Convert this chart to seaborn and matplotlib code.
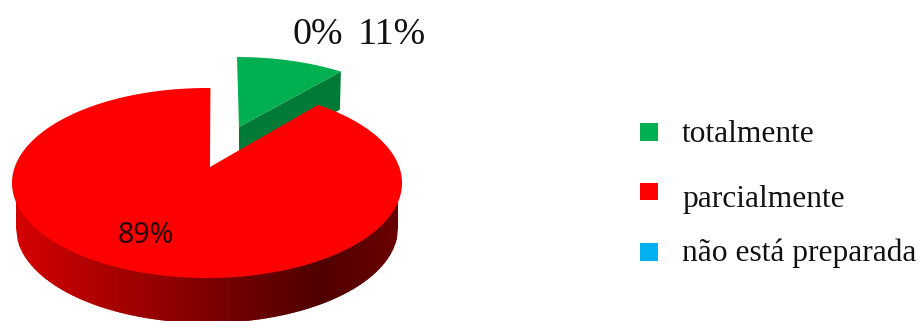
import numpy as np
import matplotlib
matplotlib.use("Agg")
import matplotlib.pyplot as plt
from matplotlib.patches import Polygon
from matplotlib.collections import PolyCollection
import seaborn as sns

# data
categories = ["totalmente", "parcialmente", "não está preparada"]
shares = [11, 89, 0]
colors = ["#00B050", "#FF0000", "#00B0F0"]

# layout (pixel coordinates of the reference)
LEG_X, LEG_Y, LEG_TXT_X = 649, [132, 191.5, 252], 682
LEG_BASE = [142, 207, 261]

sns.set_theme(style="white")
fig = plt.figure(figsize=(9.22, 3.21), dpi=100)
ax = fig.add_axes([0, 0, 1, 1])
ax.set_xlim(0, 922); ax.set_ylim(321, 0); ax.axis("off")
fig.patch.set_facecolor("white")

# slice angles derived from the values
frac = np.array(shares, float) / sum(shares)
green_end = 360 * frac[0]
red_span = 360 * frac[1]


def rim(cx, cy, rx, ry, p):
    p = np.radians(p)
    return np.column_stack([cx + rx * np.sin(p), cy - ry * np.cos(p)])


# green slice (exploded, perspective foreshortened)
GREEN_WARP = 0.813
g_arc = rim(237, 152, 195, 95, np.linspace(0, green_end * GREEN_WARP, 40))
g_apex = np.array([239, 127])
side = np.array([g_apex, g_arc[-1], g_arc[-1] + [-1, 38], g_apex + [0, 40]])
ax.add_patch(Polygon(side, closed=True, fc="#007A37", ec="none", zorder=1))
ax.add_patch(Polygon(np.vstack([g_apex, g_arc]), closed=True, fc=colors[0], ec="none", zorder=2))

# red slice side wall: gradient strips between the rims, each overlapping the next
CX, CY, RX, RY, DEPTH = 207, 183, 195, 95, 45
RX2 = 191
xs = np.linspace(CX - RX2, CX + RX2, 131)
grad = sns.blend_palette(["#D40000", "#B00000", "#900000", "#6C0000", "#500000", "#680000"], len(xs) - 1)


def low(x):
    return CY + DEPTH + RY * np.sqrt(max(0, 1 - ((x - CX) / RX2) ** 2))


polys = []
for x0, x1 in zip(xs[:-1], xs[1:]):
    x2 = min(x1 + 2, xs[-1])
    mid = np.linspace(x0, x2, 4)
    polys.append([(x0, CY), (x2, CY)] + [(m, low(m)) for m in mid[::-1]])
ax.add_collection(PolyCollection(polys, facecolors=grad, edgecolors="none", zorder=3))

# red slice top face
RED_WARP = 326.3 / red_span
p = np.linspace(34.7, 34.7 + red_span * RED_WARP, 300)
r_arc = rim(CX, CY, RX, RY, p)
ax.add_patch(Polygon(np.vstack([[210, 167], r_arc]), closed=True, fc=colors[1], ec="none", zorder=4))

# data labels
ax.text(292, 44, f"{shares[2]}%", family="Liberation Serif", fontsize=27.4,
        color="#111111", va="baseline", ha="left", zorder=5)
ax.text(358, 44, f"{shares[0]}%", family="Liberation Serif", fontsize=27.4,
        color="#111111", va="baseline", ha="left", zorder=5)
ax.text(118, 243, f"{shares[1]}%", family="Noto Sans", fontsize=20.6,
        color="#2a0000", va="baseline", ha="left", zorder=5)

# legend
sns.scatterplot(x=[LEG_X] * 3, y=LEG_Y, hue=categories, hue_order=categories, palette=colors,
                marker="s", s=155, linewidth=0, legend=False, ax=ax, zorder=5)
ax.set_xlim(0, 922); ax.set_ylim(321, 0)
for name, y in zip(categories, LEG_BASE):
    ax.text(LEG_TXT_X, y, name, family="Liberation Serif", fontsize=22.7, color="#111111",
            va="baseline", ha="left", zorder=5)

fig.savefig("out.png", dpi=100)
